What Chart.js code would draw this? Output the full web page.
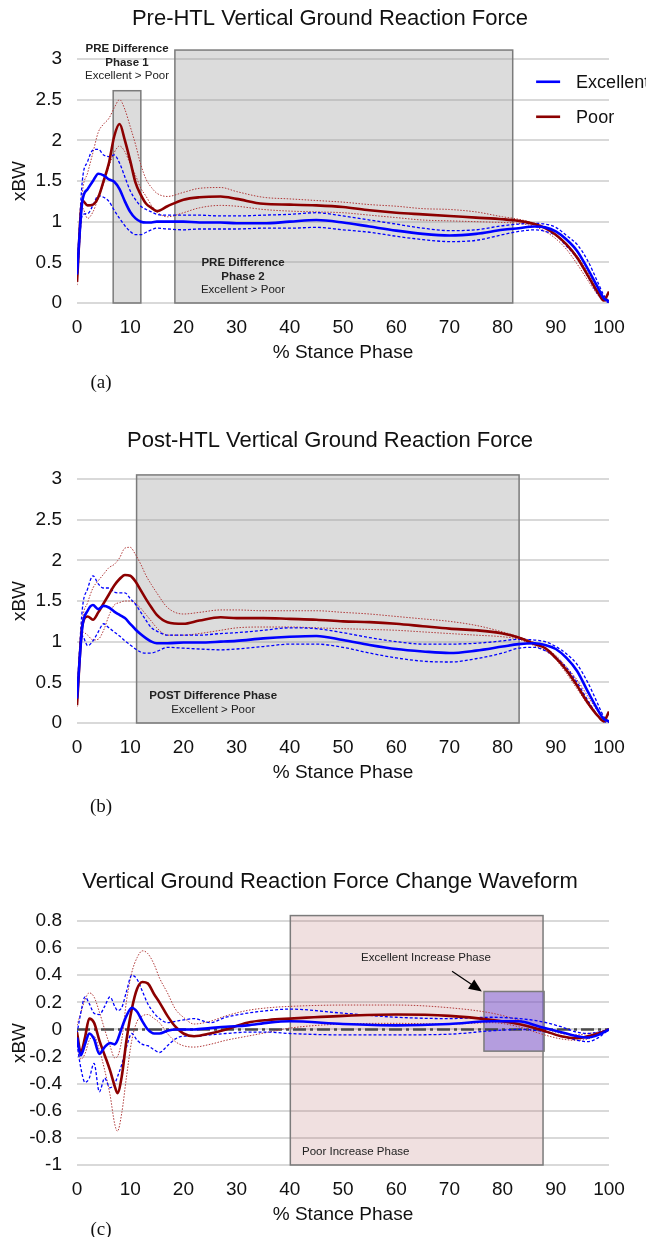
<!DOCTYPE html>
<html>
<head>
<meta charset="utf-8">
<script src="https://cdn.jsdelivr.net/npm/chart.js@4.4.0/dist/chart.umd.min.js"></script>
<style>
body{margin:0;background:#fff;width:646px;height:1237px;overflow:hidden;position:relative}
canvas{position:absolute;left:0}
.cap{position:absolute;font:19px "Liberation Serif","Times New Roman",serif;color:#111;transform:translate(-50%,-50%)}
</style>
</head>
<body>
<canvas id="pre" width="646" height="400" style="top:0"></canvas>
<canvas id="post" width="646" height="400" style="top:420px"></canvas>
<canvas id="chg" width="646" height="375" style="top:862px"></canvas>
<div class="cap" style="left:101px;top:382px">(a)</div>
<div class="cap" style="left:101px;top:806px">(b)</div>
<div class="cap" style="left:101px;top:1229px">(c)</div>
<script>
// axes
var xTicks = [0,10,20,30,40,50,60,70,80,90,100];
var yTicksForce = [0,0.5,1,1.5,2,2.5,3];
var yTicksChange = [-1,-0.8,-0.6,-0.4,-0.2,0,0.2,0.4,0.6,0.8];

// % stance for pre / post waveforms
var stance = [0,1,2,3,4,5,6,7,8,9,10,11,12,13,14,15,17,20,23,27,30,35,40,45,50,55,60,65,70,75,80,83,86,88,90,92,94,96,98,99,100];

// (a) pre-HTL
var preExc    = [0.35,1.25,1.40,1.50,1.59,1.57,1.52,1.49,1.40,1.25,1.12,1.04,1.00,0.99,0.99,1.00,1.00,1.00,0.99,0.99,0.98,0.98,1.00,1.02,0.99,0.94,0.89,0.85,0.83,0.85,0.90,0.92,0.94,0.93,0.88,0.78,0.64,0.42,0.18,0.06,0.02];
var preExcHi  = [0.40,1.50,1.74,1.88,1.89,1.82,1.80,1.82,1.72,1.55,1.38,1.27,1.19,1.15,1.12,1.09,1.08,1.08,1.08,1.07,1.07,1.08,1.09,1.11,1.07,1.02,0.97,0.92,0.89,0.90,0.95,0.97,0.98,0.97,0.93,0.83,0.72,0.52,0.24,0.10,0.02];
var preExcLo  = [0.30,1.08,1.10,1.20,1.32,1.30,1.25,1.14,1.04,0.95,0.88,0.84,0.84,0.87,0.90,0.92,0.91,0.90,0.91,0.91,0.91,0.92,0.92,0.93,0.90,0.87,0.82,0.78,0.755,0.77,0.84,0.88,0.90,0.88,0.83,0.70,0.55,0.33,0.10,0.04,0.00];
var prePoor   = [0.26,1.26,1.20,1.21,1.30,1.50,1.72,2.05,2.20,2.00,1.75,1.48,1.33,1.22,1.17,1.13,1.19,1.27,1.30,1.31,1.28,1.22,1.21,1.20,1.18,1.14,1.11,1.09,1.07,1.05,1.03,1.01,0.97,0.92,0.84,0.72,0.56,0.34,0.12,0.03,0.14];
var prePoorHi = [0.30,1.35,1.60,1.85,2.10,2.20,2.27,2.40,2.50,2.38,2.17,1.95,1.70,1.52,1.42,1.35,1.31,1.36,1.41,1.42,1.37,1.30,1.28,1.26,1.24,1.21,1.19,1.16,1.15,1.12,1.06,1.03,0.98,0.93,0.84,0.71,0.58,0.38,0.15,0.05,0.05];
var prePoorLo = [0.22,1.17,1.04,1.12,1.29,1.47,1.68,1.85,1.93,1.86,1.71,1.57,1.41,1.31,1.20,1.12,1.06,1.11,1.17,1.20,1.19,1.15,1.13,1.12,1.11,1.08,1.05,1.02,1.01,1.00,0.99,0.98,0.94,0.88,0.79,0.66,0.48,0.28,0.09,0.03,0.00];

// (b) post-HTL
var postExc    = [0.30,1.18,1.38,1.45,1.40,1.44,1.42,1.37,1.33,1.29,1.22,1.15,1.09,1.04,1.00,0.98,0.98,0.99,0.99,1.00,1.01,1.04,1.06,1.07,1.02,0.96,0.91,0.88,0.86,0.89,0.94,0.97,0.98,0.96,0.91,0.80,0.64,0.39,0.15,0.05,0.02];
var postExcHi  = [0.35,1.40,1.65,1.81,1.71,1.66,1.66,1.61,1.60,1.60,1.53,1.46,1.36,1.26,1.17,1.13,1.08,1.08,1.08,1.10,1.11,1.14,1.17,1.16,1.11,1.05,1.00,0.97,0.97,0.98,1.01,1.03,1.02,1.00,0.94,0.85,0.72,0.50,0.22,0.08,0.02];
var postExcLo  = [0.25,1.07,0.95,1.01,1.12,1.22,1.17,1.12,1.07,1.01,0.96,0.91,0.87,0.86,0.86,0.88,0.93,0.92,0.91,0.90,0.91,0.94,0.97,0.97,0.93,0.86,0.80,0.76,0.75,0.79,0.86,0.92,0.93,0.89,0.81,0.68,0.50,0.28,0.08,0.02,0.00];
var postPoor   = [0.22,1.20,1.31,1.27,1.36,1.47,1.58,1.69,1.77,1.82,1.81,1.74,1.63,1.52,1.42,1.33,1.24,1.22,1.26,1.30,1.29,1.29,1.28,1.27,1.25,1.24,1.22,1.19,1.16,1.14,1.10,1.05,0.97,0.92,0.80,0.65,0.46,0.25,0.08,0.02,0.14];
var postPoorHi = [0.25,1.25,1.48,1.66,1.75,1.83,1.91,1.95,2.03,2.15,2.16,2.07,1.95,1.81,1.70,1.60,1.42,1.34,1.36,1.39,1.39,1.38,1.38,1.38,1.36,1.34,1.31,1.28,1.25,1.20,1.12,1.06,0.99,0.92,0.83,0.69,0.53,0.33,0.13,0.05,0.02];
var postPoorLo = [0.20,1.12,1.08,1.02,1.03,1.14,1.32,1.45,1.48,1.50,1.50,1.47,1.41,1.33,1.25,1.17,1.08,1.08,1.10,1.14,1.17,1.18,1.18,1.17,1.16,1.15,1.14,1.12,1.10,1.08,1.06,1.03,0.95,0.89,0.78,0.61,0.42,0.23,0.08,0.03,0.00];

// (c) change waveform
var stanceChg = [0,0.7,1.5,2.3,3.2,4.2,5.2,6.2,7.1,7.6,8.4,9.3,10.3,11.3,12.3,13.3,14.5,15.5,17,18.5,20,22,25,28,32,36,40,50,60,70,78,83,87,91,94,96,98,100];
var chgExc    = [-0.06,-0.19,-0.11,-0.03,-0.07,-0.18,-0.13,-0.10,-0.11,-0.08,0.01,0.10,0.16,0.13,0.06,0.00,-0.03,-0.03,-0.01,0.00,0.00,0.00,0.01,0.02,0.03,0.05,0.06,0.04,0.03,0.04,0.06,0.06,0.02,-0.02,-0.05,-0.06,-0.04,0.00];
var chgExcHi  = [-0.03,0.12,0.24,0.19,0.12,0.11,0.17,0.24,0.17,0.14,0.16,0.28,0.40,0.37,0.28,0.19,0.12,0.08,0.05,0.06,0.07,0.08,0.05,0.09,0.12,0.14,0.15,0.12,0.09,0.08,0.09,0.08,0.06,0.02,-0.02,-0.03,-0.02,0.00];
var chgExcLo  = [-0.11,-0.28,-0.39,-0.36,-0.25,-0.46,-0.36,-0.43,-0.40,-0.35,-0.26,-0.13,-0.03,-0.08,-0.11,-0.12,-0.15,-0.17,-0.12,-0.07,-0.05,-0.05,-0.04,-0.03,-0.02,-0.02,-0.03,-0.04,-0.04,-0.035,-0.01,0.00,-0.01,-0.05,-0.08,-0.09,-0.06,0.00];
var chgPoor   = [-0.02,-0.17,-0.06,0.08,0.05,-0.08,-0.19,-0.30,-0.42,-0.47,-0.35,-0.08,0.15,0.30,0.35,0.34,0.26,0.20,0.10,0.02,-0.03,-0.05,-0.03,0.00,0.05,0.07,0.08,0.10,0.11,0.10,0.07,0.04,0.00,-0.05,-0.065,-0.05,-0.03,0.00];
var chgPoorHi = [0.03,0.12,0.22,0.27,0.24,0.13,0.00,-0.12,-0.21,-0.20,-0.08,0.21,0.42,0.53,0.58,0.56,0.48,0.38,0.27,0.15,0.09,0.04,0.06,0.10,0.14,0.16,0.17,0.18,0.18,0.16,0.12,0.07,0.02,-0.03,-0.04,-0.03,-0.02,0.00];
var chgPoorLo = [-0.08,-0.22,-0.18,-0.08,-0.05,-0.15,-0.30,-0.48,-0.70,-0.75,-0.62,-0.35,-0.08,0.06,0.10,0.11,0.08,0.05,-0.03,-0.09,-0.12,-0.13,-0.11,-0.08,-0.05,-0.02,0.01,0.04,0.045,0.04,0.05,0.02,-0.03,-0.07,-0.08,-0.07,-0.04,0.00];
var zeroX = [0,100];
var zeroY = [0,0];

// shaded phases: [from %, to %, low, high]
var prePhases  = [[6.8,12.0,0,2.61],[18.4,81.9,0,3.11]];
var postPhases = [[11.2,83.1,0,3.05]];
var poorIncrease = [40.1,87.6,-1,0.84];
var excIncrease  = [76.5,87.8,-0.16,0.28];

var FONT = '"Liberation Sans", Arial, sans-serif';
Chart.defaults.font.family = FONT;
Chart.defaults.color = '#111';

var BLUE = '#0000ff', RED = '#8c0000', RED_SD = '#b03a3a';

function series(xs, ys){
    return xs.map(function(x, i){ return {x: x, y: ys[i]}; });
}

function waveSets(xs, exc, excHi, excLo, poor, poorHi, poorLo){
    return [
        {label: 'Excellent', data: series(xs, exc), borderColor: BLUE, borderWidth: 2.6},
        {label: 'Poor', data: series(xs, poor), borderColor: RED, borderWidth: 2.6},
        {label: 'Excellent +SD', data: series(xs, excHi), borderColor: BLUE, borderWidth: 1.3, borderDash: [3, 2]},
        {label: 'Excellent -SD', data: series(xs, excLo), borderColor: BLUE, borderWidth: 1.3, borderDash: [3, 2]},
        {label: 'Poor +SD', data: series(xs, poorHi), borderColor: RED_SD, borderWidth: 1, borderDash: [1.5, 1.5]},
        {label: 'Poor -SD', data: series(xs, poorLo), borderColor: RED_SD, borderWidth: 1, borderDash: [1.5, 1.5]}
    ];
}

// boxes, notes, arrow, legend and heading drawn through the chart scales
function overlay(cfg){
    return {
        id: 'overlay',
        beforeDatasetsDraw: function(chart){
            var ctx = chart.ctx, x = chart.scales.x, y = chart.scales.y;
            ctx.save();
            cfg.boxes.forEach(function(b){
                var l = x.getPixelForValue(b[0]), r = x.getPixelForValue(b[1]);
                var t = y.getPixelForValue(b[3]), bt = y.getPixelForValue(b[2]);
                ctx.fillStyle = b[4];
                ctx.fillRect(l, t, r - l, bt - t);
                ctx.strokeStyle = '#7b7b7b';
                ctx.lineWidth = 1.5;
                ctx.strokeRect(l, t, r - l, bt - t);
            });
            ctx.restore();
        },
        afterDatasetsDraw: function(chart){
            var ctx = chart.ctx, x = chart.scales.x, y = chart.scales.y;
            ctx.save();
            ctx.fillStyle = '#222';
            ctx.textBaseline = 'middle';
            (cfg.notes || []).forEach(function(n){
                var px = x.getPixelForValue(n.x), py = y.getPixelForValue(n.y);
                ctx.textAlign = n.align || 'center';
                n.lines.forEach(function(line, i){
                    ctx.font = (line[1] ? 'bold ' : '') + '11.5px ' + FONT;
                    ctx.fillText(line[0], px, py + i * 13.5);
                });
            });
            if (cfg.arrow) {
                var a = cfg.arrow;
                var x0 = x.getPixelForValue(a[0]), y0 = y.getPixelForValue(a[1]);
                var x1 = x.getPixelForValue(a[2]), y1 = y.getPixelForValue(a[3]);
                var ang = Math.atan2(y1 - y0, x1 - x0);
                ctx.strokeStyle = '#000';
                ctx.fillStyle = '#000';
                ctx.lineWidth = 1.2;
                ctx.beginPath();
                ctx.moveTo(x0, y0);
                ctx.lineTo(x1 - 10 * Math.cos(ang), y1 - 10 * Math.sin(ang));
                ctx.stroke();
                ctx.beginPath();
                ctx.moveTo(x1, y1);
                ctx.lineTo(x1 - 13 * Math.cos(ang) + 5.5 * Math.sin(ang), y1 - 13 * Math.sin(ang) - 5.5 * Math.cos(ang));
                ctx.lineTo(x1 - 13 * Math.cos(ang) - 5.5 * Math.sin(ang), y1 - 13 * Math.sin(ang) + 5.5 * Math.cos(ang));
                ctx.closePath();
                ctx.fill();
            }
            if (cfg.legend) {
                var lx = x.getPixelForValue(cfg.legend[0]), ly = y.getPixelForValue(cfg.legend[1]);
                ctx.font = '18px ' + FONT;
                ctx.textAlign = 'left';
                [0, 1].forEach(function(i){
                    var ds = chart.data.datasets[i];
                    ctx.strokeStyle = ds.borderColor;
                    ctx.lineWidth = 2.6;
                    ctx.beginPath();
                    ctx.moveTo(lx, ly + i * 35);
                    ctx.lineTo(lx + 24, ly + i * 35);
                    ctx.stroke();
                    ctx.fillStyle = '#111';
                    ctx.fillText(ds.label, lx + 40, ly + i * 35 + 1);
                });
            }
            ctx.fillStyle = '#111';
            ctx.font = '22px ' + FONT;
            ctx.textAlign = 'center';
            ctx.fillText(cfg.title, 330, cfg.titleY);
            ctx.restore();
        }
    };
}

function makeChart(id, h, yMin, yMax, yTicks, datasets, cfg){
    return new Chart(document.getElementById(id), {
        type: 'line',
        data: {datasets: datasets},
        options: {
            responsive: false,
            animation: false,
            devicePixelRatio: 1,
            layout: {padding: {top: 59, right: 37, left: 0, bottom: 0}},
            elements: {point: {radius: 0}, line: {cubicInterpolationMode: 'monotone', fill: false}},
            plugins: {legend: {display: false}, tooltip: {enabled: false}},
            scales: {
                x: {
                    type: 'linear', min: 0, max: 100,
                    afterFit: function(s){ s.height = h - 303; },
                    afterBuildTicks: function(s){ s.ticks = xTicks.map(function(v){ return {value: v}; }); },
                    grid: {display: false, drawTicks: false},
                    border: {display: false},
                    ticks: {padding: 13, font: {size: 19}, maxRotation: 0, autoSkip: false,
                        callback: function(v){ return String(v); }},
                    title: {display: true, text: '% Stance Phase', font: {size: 19}, padding: {top: 0, bottom: h - 353 - 11.4}}
                },
                y: {
                    min: yMin, max: yMax,
                    afterFit: function(s){ s.width = 77; },
                    afterBuildTicks: function(s){ s.ticks = yTicks.map(function(v){ return {value: v}; }); },
                    grid: {color: '#d9d9d9', lineWidth: 2, drawTicks: false},
                    border: {display: false},
                    ticks: {padding: 15, font: {size: 19},
                        callback: function(v){ return String(Math.round(v * 10) / 10); }},
                    title: {display: true, text: 'xBW', font: {size: 19}, padding: {top: 8, bottom: 0}}
                }
            }
        },
        plugins: [overlay(cfg)]
    });
}

var GRAY_BOX = 'rgba(155,155,155,0.35)';

makeChart('pre', 400, 0, 3, yTicksForce,
    waveSets(stance, preExc, preExcHi, preExcLo, prePoor, prePoorHi, prePoorLo), {
    title: 'Pre-HTL Vertical Ground Reaction Force', titleY: 19,
    boxes: prePhases.map(function(p){ return p.concat([GRAY_BOX]); }),
    notes: [
        {x: 9.4, y: 3.12, lines: [['PRE Difference', true], ['Phase 1', true], ['Excellent > Poor', false]]},
        {x: 31.2, y: 0.49, lines: [['PRE Difference', true], ['Phase 2', true], ['Excellent > Poor', false]]}
    ],
    legend: [86.3, 2.72]
});

makeChart('post', 400, 0, 3, yTicksForce,
    waveSets(stance, postExc, postExcHi, postExcLo, postPoor, postPoorHi, postPoorLo), {
    title: 'Post-HTL Vertical Ground Reaction Force', titleY: 21,
    boxes: postPhases.map(function(p){ return p.concat([GRAY_BOX]); }),
    notes: [
        {x: 25.6, y: 0.33, lines: [['POST Difference Phase', true], ['Excellent > Poor', false]]}
    ]
});

var chgSets = waveSets(stanceChg, chgExc, chgExcHi, chgExcLo, chgPoor, chgPoorHi, chgPoorLo);
chgSets.push({label: 'Zero', data: series(zeroX, zeroY), borderColor: '#4a4a4a', borderWidth: 2.6, borderDash: [13, 4, 3, 4]});

makeChart('chg', 375, -1, 0.8, yTicksChange, chgSets, {
    title: 'Vertical Ground Reaction Force Change Waveform', titleY: 20,
    boxes: [poorIncrease.concat(['rgba(180,100,100,0.2)']), excIncrease.concat(['rgba(120,90,220,0.5)'])],
    notes: [
        {x: 65.6, y: 0.53, lines: [['Excellent Increase Phase', false]]},
        {x: 42.3, y: -0.905, align: 'left', lines: [['Poor Increase Phase', false]]}
    ],
    arrow: [70.5, 0.43, 76.1, 0.28]
});
</script>
</body>
</html>
